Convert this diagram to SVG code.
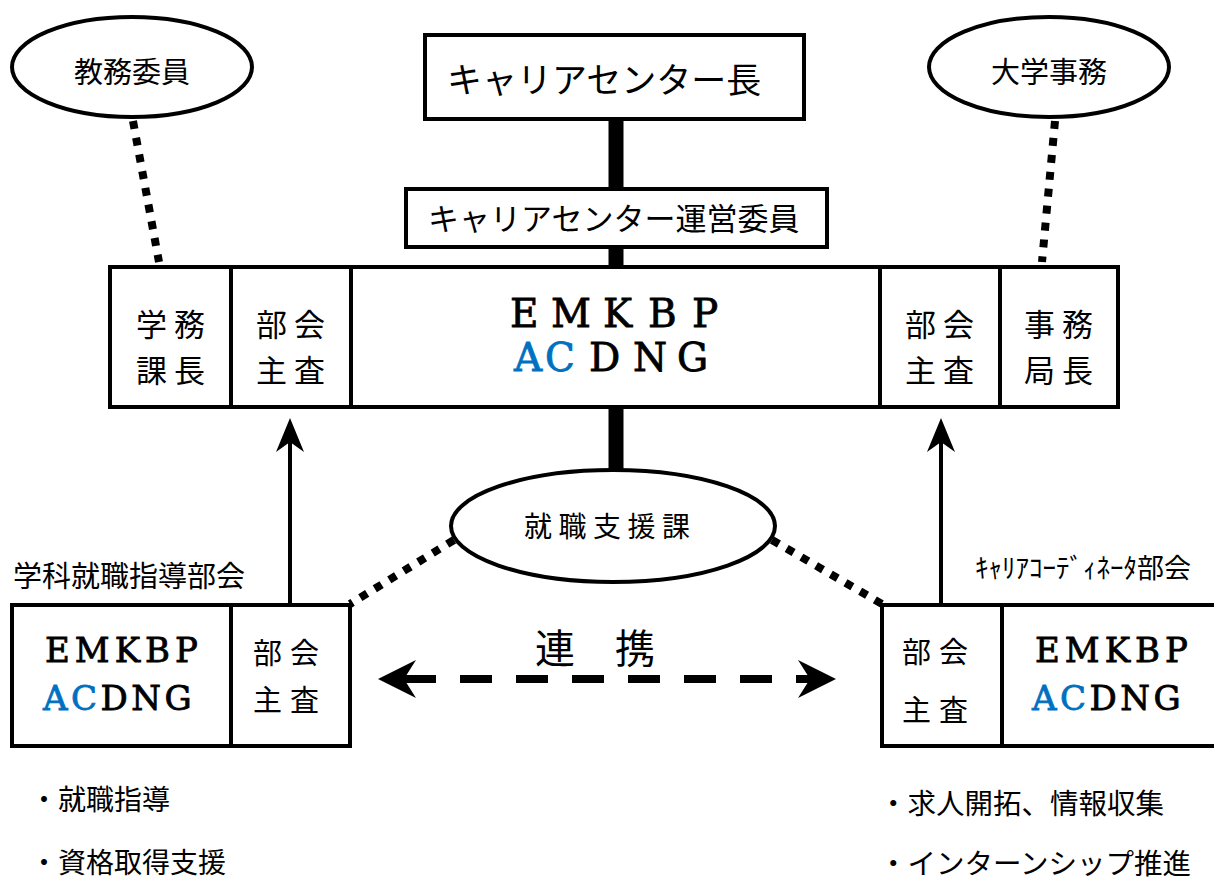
<svg xmlns="http://www.w3.org/2000/svg" width="1214" height="881" viewBox="0 0 1214 881">
<style>
.box{fill:#fff;stroke:#000;stroke-width:4}
.ell{fill:#fff;stroke:#000;stroke-width:4}
.div{stroke:#000;stroke-width:4}
.jp{font-family:"Noto Sans CJK JP","Noto Sans CJK SC",sans-serif;fill:#000}
.lat{font-family:"DejaVu Serif","Liberation Serif",serif;fill:#000;stroke:#000;stroke-width:0.8}
.blue{fill:#0070C0;stroke:#0070C0}
.dot{stroke:#000;stroke-width:8;stroke-dasharray:8 9;fill:none}
.bar{stroke:#000;stroke-width:15}
.arr{stroke:#000;stroke-width:4;fill:none}
.dash{stroke:#000;stroke-width:8;stroke-dasharray:32 24;fill:none}
</style>
<defs>
<marker id="headV" markerUnits="userSpaceOnUse" viewBox="-12 -16 40 32" markerWidth="40" markerHeight="32" refX="0" refY="0" orient="auto">
<path d="M24,0 L-10,-14 L0,0 L-10,14 Z" fill="#000"/>
</marker>
<marker id="headH" markerUnits="userSpaceOnUse" viewBox="-14 -21 44 42" markerWidth="44" markerHeight="42" refX="0" refY="0" orient="auto-start-reverse">
<path d="M26,0 L-12,-19 L0,0 L-12,19 Z" fill="#000"/>
</marker>
</defs>

<g id="connectors">
<line class="bar" x1="616" y1="118" x2="616" y2="268"/>
<line class="bar" x1="616" y1="406" x2="616" y2="472"/>
<line class="dot" x1="133" y1="121" x2="159" y2="262"/>
<line class="dot" x1="1055" y1="121" x2="1042" y2="262"/>
<line class="dot" x1="454" y1="540" x2="350" y2="604"/>
<line class="dot" x1="772" y1="540" x2="882" y2="604"/>
<line class="arr" x1="290" y1="603" x2="290" y2="442" marker-end="url(#headV)"/>
<line class="arr" x1="941" y1="603" x2="941" y2="442" marker-end="url(#headV)"/>
<line class="dash" x1="404" y1="679" x2="810" y2="679" marker-start="url(#headH)" marker-end="url(#headH)"/>
</g>

<g id="kyomu">
<ellipse class="ell" cx="132" cy="67" rx="120" ry="50"/>
<text class="jp" x="132" y="83" font-size="29" text-anchor="middle">教務委員</text>
</g>

<g id="daigaku">
<ellipse class="ell" cx="1049" cy="67" rx="120" ry="50"/>
<text class="jp" x="1049" y="83" font-size="29" text-anchor="middle">大学事務</text>
</g>

<g id="center-head">
<rect class="box" x="425" y="35" width="379" height="84"/>
<text class="jp" x="447" y="93" font-size="35">キャリアセンター長</text>
</g>

<g id="committee">
<rect class="box" x="406" y="189" width="421" height="58"/>
<text class="jp" x="428" y="230" font-size="31">キャリアセンター運営委員</text>
</g>

<g id="main-row">
<rect class="box" x="110" y="267" width="1008" height="140"/>
<line class="div" x1="231" y1="267" x2="231" y2="407"/>
<line class="div" x1="351" y1="267" x2="351" y2="407"/>
<line class="div" x1="880" y1="267" x2="880" y2="407"/>
<line class="div" x1="1000" y1="267" x2="1000" y2="407"/>
<g class="jp" font-size="31" letter-spacing="7">
<text x="136" y="336">学務</text>
<text x="136" y="382">課長</text>
<text x="256" y="336">部会</text>
<text x="256" y="382">主査</text>
<text x="905" y="336">部会</text>
<text x="905" y="382">主査</text>
<text x="1024" y="336">事務</text>
<text x="1024" y="382">局長</text>
</g>
<text class="lat" x="510 551 603 648 692" y="327" font-size="39">EMKBP</text>
<text class="lat" y="371" font-size="39"><tspan class="blue" x="514 545">AC</tspan><tspan x="589 633 677">DNG</tspan></text>
</g>

<g id="shushoku">
<ellipse class="ell" cx="613" cy="526" rx="162" ry="56"/>
<text class="jp" x="524" y="537" font-size="28" letter-spacing="6.5">就職支援課</text>
</g>

<g id="renkei">
<text class="jp" x="535" y="663" font-size="40" letter-spacing="40">連携</text>
</g>

<g id="gakka">
<text class="jp" x="13" y="587" font-size="29">学科就職指導部会</text>
<rect class="box" x="12" y="605" width="338" height="141"/>
<line class="div" x1="231" y1="605" x2="231" y2="746"/>
<text class="lat" x="45" y="662" font-size="34" letter-spacing="5">EMKBP</text>
<text class="lat" x="43" y="710" font-size="34" letter-spacing="3.5"><tspan class="blue">AC</tspan>DNG</text>
<text class="jp" x="253" y="664" font-size="29" letter-spacing="8">部会</text>
<text class="jp" x="253" y="711" font-size="29" letter-spacing="8">主査</text>
</g>

<g id="coordinator">
<text class="jp" x="975" y="578" font-size="27">ｷｬﾘｱｺｰﾃﾞｨﾈｰﾀ部会</text>
<rect class="box" x="882" y="605" width="340" height="141"/>
<line class="div" x1="1002" y1="605" x2="1002" y2="746"/>
<text class="lat" x="1035" y="662" font-size="34" letter-spacing="5">EMKBP</text>
<text class="lat" x="1032" y="710" font-size="34" letter-spacing="3.5"><tspan class="blue">AC</tspan>DNG</text>
<text class="jp" x="902" y="663" font-size="29" letter-spacing="8">部会</text>
<text class="jp" x="902" y="721" font-size="29" letter-spacing="8">主査</text>
</g>

<g id="notes-left" class="jp" font-size="28">
<text x="30" y="810">・就職指導</text>
<text x="30" y="873">・資格取得支援</text>
</g>

<g id="notes-right" class="jp" font-size="28.5">
<text x="879" y="814">・求人開拓、情報収集</text>
<text x="879" y="874">・インターンシップ推進</text>
</g>
</svg>
